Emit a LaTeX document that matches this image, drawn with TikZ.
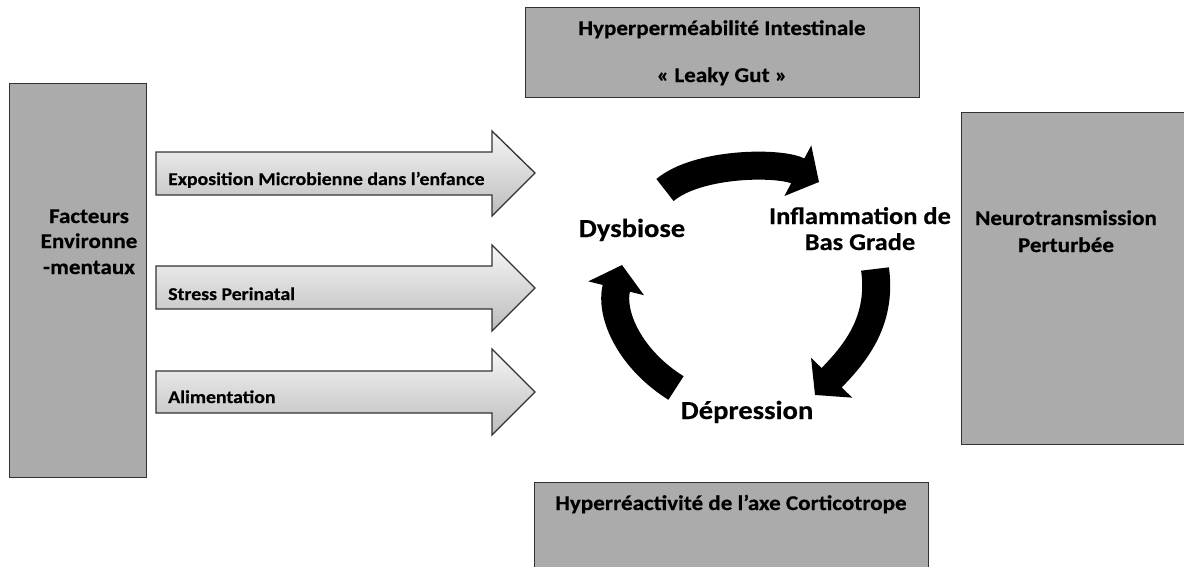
\documentclass[tikz,border=0pt]{standalone}
\usepackage{fontspec}
\setmainfont{Carlito}[FakeStretch=1.1, BoldFeatures={FakeBold=0.4}]
\usetikzlibrary{arrows.meta}
\definecolor{boxgray}{RGB}{171,171,171}
\definecolor{edgegray}{RGB}{50,50,50}
\definecolor{arrtop}{RGB}{246,246,246}
\definecolor{arrbot}{RGB}{188,188,188}
\begin{document}
\begin{tikzpicture}[x=1pt,y=-1pt,
  box/.style={draw=edgegray, line width=1.3pt, fill=boxgray, inner sep=0pt},
  boxtext/.style={font=\bfseries\fontsize{21}{25}\selectfont, anchor=base, inner sep=0pt},
  arrtext/.style={font=\bfseries\fontsize{18}{22}\selectfont, anchor=base west, inner sep=0pt},
  cyctext/.style={font=\bfseries\fontsize{24}{29}\selectfont, anchor=base, inner sep=0pt},
  blockarrow/.style={draw=edgegray, line width=1.3pt, top color=arrtop, bottom color=arrbot},
  cycarrow/.style={line width=28pt, line cap=butt, black, -{Triangle[length=24pt,width=56pt]}}
]
\useasboundingbox (0,0) rectangle (1184,566);

% boxes
\node (envbox) [box, anchor=north west, minimum width=137pt, minimum height=394pt] at (9,83) {};
\node (leakbox) [box, anchor=north west, minimum width=394pt, minimum height=90pt] at (525,7) {};
\node (hpabox) [box, anchor=north west, minimum width=394pt, minimum height=100pt] at (534,482) {};
\node (neurobox) [box, anchor=north west, minimum width=240pt, minimum height=332pt] at (961,112) {};

% box texts
\node (envA) [boxtext] at (89,223) {Facteurs};
\node (envB) [boxtext] at (89,248) {Environne};
\node (envC) [boxtext] at (89,274) {-mentaux};
\node (leakA) [boxtext] at (722,35) {Hyperperméabilité Intestinale};
\node (leakB) [boxtext] at (722,82) {« Leaky Gut »};
\node (hpaA) [boxtext] at (731,510) {Hyperréactivité de l’axe Corticotrope};
\node (neuroA) [boxtext] at (1066,225) {Neurotransmission};
\node (neuroB) [boxtext] at (1066,252) {Perturbée};

% block arrows
\draw[blockarrow] (156,152) -- (492,152) -- (492,131) -- (535,173) -- (492,216) -- (492,195) -- (156,195) -- cycle;
\draw[blockarrow] (156,266) -- (492,266) -- (492,245) -- (535,288) -- (492,331) -- (492,309) -- (156,309) -- cycle;
\draw[blockarrow] (156,371) -- (492,371) -- (492,349) -- (535,392) -- (492,435) -- (492,413) -- (156,413) -- cycle;
\node (lab1) [arrtext] at (168,185) {Exposition Microbienne dans l’enfance};
\node (lab2) [arrtext] at (168,300) {Stress Perinatal};
\node (lab3) [arrtext] at (168,403) {Alimentation};

% cycle labels
\node (dys) [cyctext, font=\bfseries\fontsize{26}{30}\selectfont] at (632,237) {Dysbiose};
\node (inflA) [cyctext] at (860,224) {Inflammation de};
\node (inflB) [cyctext] at (860,250) {Bas Grade};
\node (dep) [cyctext, font=\bfseries\fontsize{26}{30}\selectfont] at (747,419) {Dépression};

% cycle arrows
\coordinate (topS) at (665,190);
\coordinate (topE) at (819,182);
\coordinate (rgtS) at (875,269);
\coordinate (rgtE) at (815,395);
\coordinate (lftS) at (676,388);
\coordinate (lftE) at (622,265);
\draw[cycarrow] (topS) to[out=40, in=152, looseness=0.72] (topE);
\draw[cycarrow] (rgtS) to[out=-82, in=46] (rgtE);
\draw[cycarrow] (lftS) to[out=148, in=-104] (lftE);
\end{tikzpicture}
\end{document}
